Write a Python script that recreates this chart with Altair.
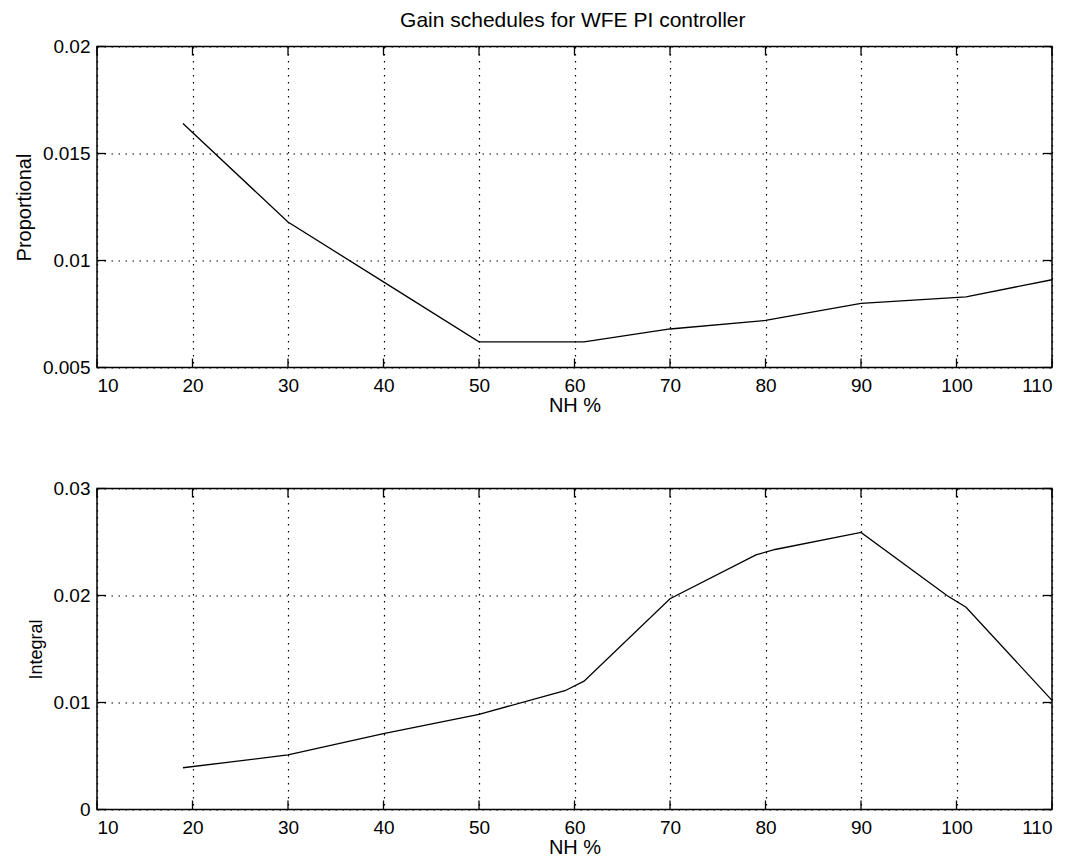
import altair as alt
import pandas as pd

# ---- data ----
nh_prop = [19, 30, 40, 50, 61, 70, 80, 90, 101, 110]
k_prop = [0.0164, 0.0118, 0.0090, 0.0062, 0.0062, 0.0068, 0.0072, 0.0080, 0.0083, 0.0091]

nh_int = [19, 30, 40, 50, 59, 61, 70, 79, 81, 90, 99, 101, 110]
k_int = [0.0039, 0.0051, 0.0071, 0.0089, 0.0111, 0.0120, 0.0197, 0.0238, 0.0243, 0.0259, 0.0200, 0.0189, 0.0102]

x_ticks = [10, 20, 30, 40, 50, 60, 70, 80, 90, 100, 110]
y_ticks_prop = [0.005, 0.01, 0.015, 0.02]
y_ticks_int = [0, 0.01, 0.02, 0.03]

W = 955
H = 321
TICK = 9
FONT = "Liberation Sans"


def panel(nh, vals, yticks, ytitle, ytitle_size):
    df = pd.DataFrame({"NH": nh, "K": vals})
    xs = alt.Scale(domain=[x_ticks[0], x_ticks[-1]], nice=False, zero=False)
    ys = alt.Scale(domain=[yticks[0], yticks[-1]], nice=False, zero=False)
    xaxis = alt.Axis(values=x_ticks, title="NH %", format="d", grid=True,
                     ticks=False, domain=False, labelPadding=9, titlePadding=0,
                     labelFontSize=19, titleFontSize=20)
    yaxis = alt.Axis(values=yticks, title=ytitle, format=".3~f", grid=True,
                     ticks=False, domain=False, labelPadding=7, titlePadding=7.5,
                     labelFontSize=19, titleFontSize=ytitle_size)
    line = alt.Chart(df).mark_line(color="black", strokeWidth=1.3).encode(
        x=alt.X("NH:Q", scale=xs, axis=xaxis),
        y=alt.Y("K:Q", scale=ys, axis=yaxis),
    )
    xt = pd.DataFrame({"t": x_ticks})
    yt = pd.DataFrame({"t": yticks})
    top_t = alt.Chart(xt).mark_rule(color="black", strokeWidth=1.3).encode(
        x=alt.X("t:Q", scale=xs, axis=xaxis), y=alt.value(0), y2=alt.value(TICK))
    bot_t = alt.Chart(xt).mark_rule(color="black", strokeWidth=1.3).encode(
        x=alt.X("t:Q", scale=xs, axis=xaxis), y=alt.value(H), y2=alt.value(H - TICK))
    left_t = alt.Chart(yt).mark_rule(color="black", strokeWidth=1.3).encode(
        y=alt.Y("t:Q", scale=ys, axis=yaxis), x=alt.value(0), x2=alt.value(TICK))
    right_t = alt.Chart(yt).mark_rule(color="black", strokeWidth=1.3).encode(
        y=alt.Y("t:Q", scale=ys, axis=yaxis), x=alt.value(W - TICK), x2=alt.value(W))
    return alt.layer(line, top_t, bot_t, left_t, right_t).properties(
        width=W, height=H,
        view=alt.ViewBackground(stroke="black", strokeWidth=1.5),
    )


top = panel(nh_prop, k_prop, y_ticks_prop, "Proportional", 20)
bottom = panel(nh_int, k_int, y_ticks_int, "Integral", 18)

chart = alt.vconcat(top, bottom, spacing=62).properties(
    title=alt.TitleParams("Gain schedules for WFE PI controller", fontSize=21,
                          fontWeight="normal", font=FONT, color="black",
                          anchor="middle", offset=6, dx=38),
    padding={"left": 6, "top": 1.5, "right": 5, "bottom": 0},
    background="white",
).configure_view(
    stroke="black", strokeWidth=1.5
).configure_axis(
    labelFont=FONT, labelColor="black",
    titleFont=FONT, titleFontWeight="normal", titleColor="black",
    gridColor="black", gridDash=[1.5, 5.5], gridWidth=1.2, gridOpacity=1,
)

chart.save("out.html", embed_options={"renderer": "svg", "actions": False})
